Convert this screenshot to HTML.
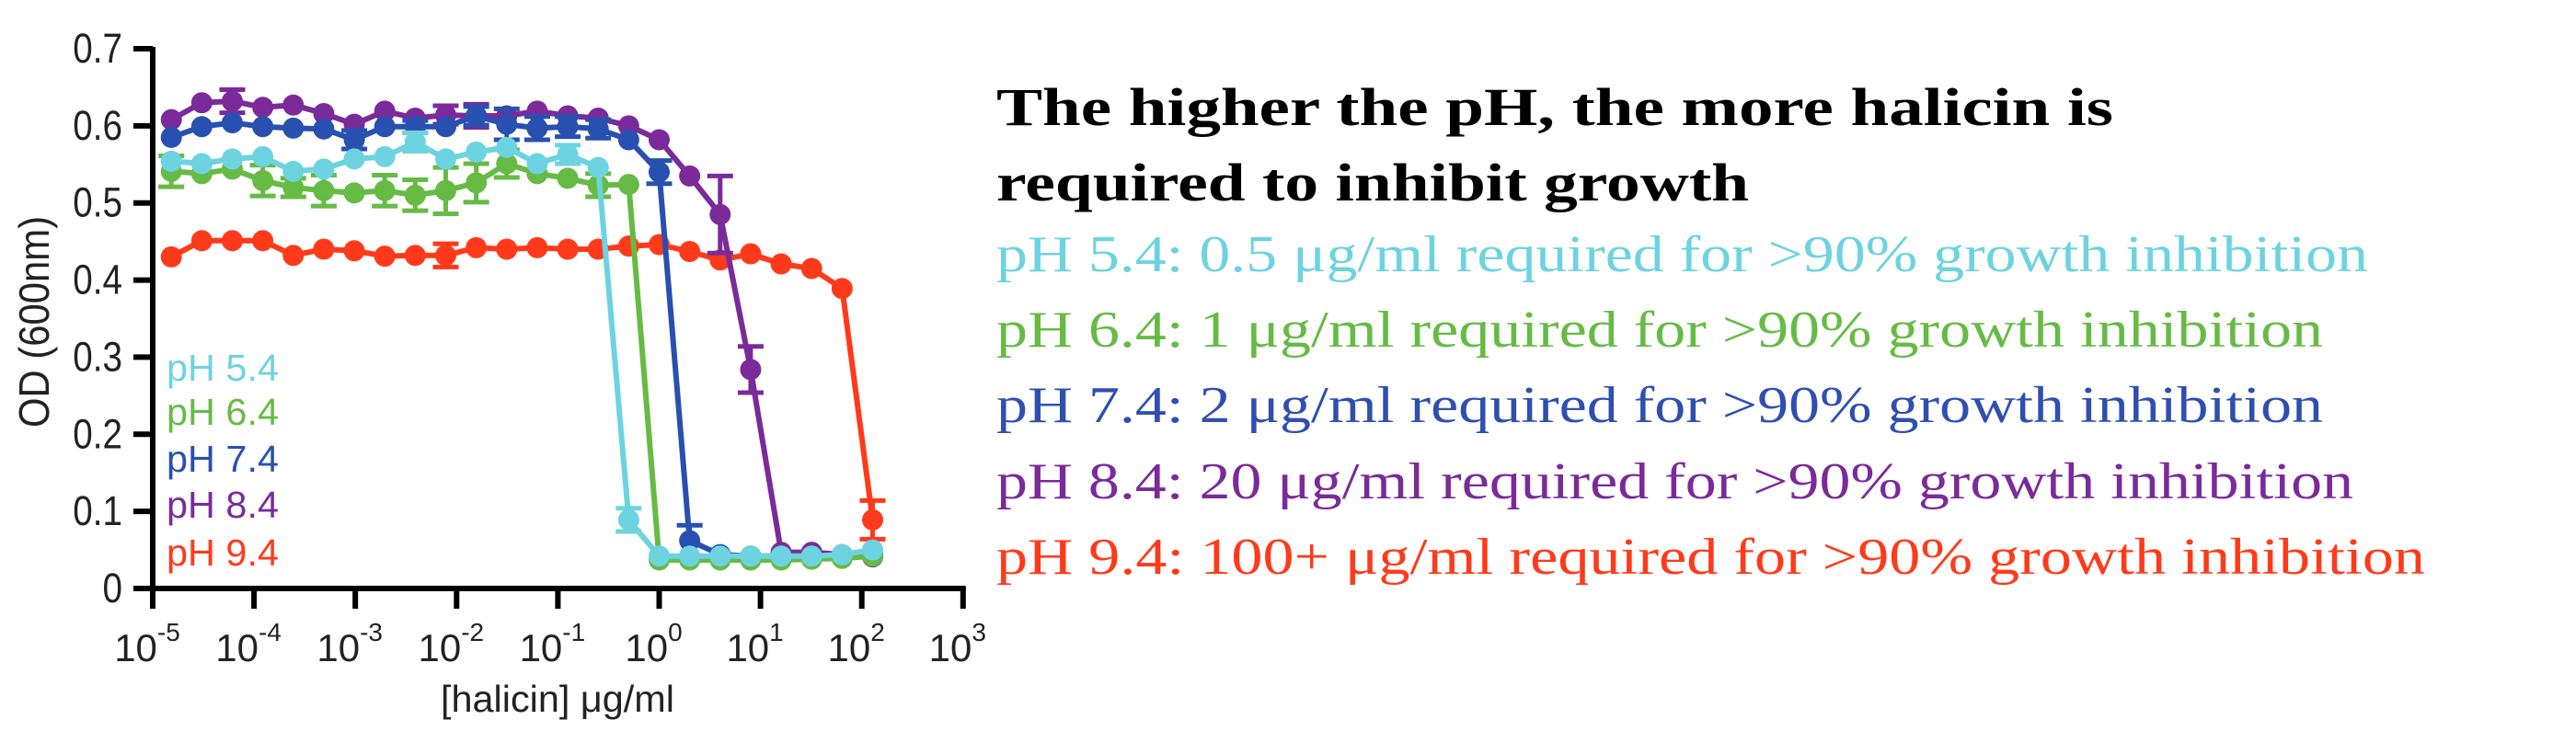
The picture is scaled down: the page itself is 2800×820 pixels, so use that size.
<!DOCTYPE html>
<html><head><meta charset="utf-8"><style>
html,body{margin:0;padding:0;background:#fff;}
svg{display:block;}
</style></head><body>
<svg id="chart" width="2800" height="820" viewBox="0 0 2800 820" xmlns="http://www.w3.org/2000/svg">
<g id="axes"></g>
<g id="series"></g>
<g id="legend"></g>
<g font-family="'Liberation Serif', serif">
<text x="1083" y="136" font-size="58" font-weight="bold" fill="#000" textLength="1214" lengthAdjust="spacingAndGlyphs">The higher the pH, the more halicin is</text>
<text x="1083" y="218" font-size="58" font-weight="bold" fill="#000" textLength="818" lengthAdjust="spacingAndGlyphs">required to inhibit growth</text>
<text x="1083" y="295" font-size="56" fill="#6dd3e0" textLength="1491" lengthAdjust="spacingAndGlyphs">pH 5.4: 0.5 μg/ml required for &gt;90% growth inhibition</text>
<text x="1083" y="377" font-size="56" fill="#66bb44" textLength="1442" lengthAdjust="spacingAndGlyphs">pH 6.4: 1 μg/ml required for &gt;90% growth inhibition</text>
<text x="1083" y="459" font-size="56" fill="#2f4fb0" textLength="1442" lengthAdjust="spacingAndGlyphs">pH 7.4: 2 μg/ml required for &gt;90% growth inhibition</text>
<text x="1083" y="542" font-size="56" fill="#7b2a9a" textLength="1475" lengthAdjust="spacingAndGlyphs">pH 8.4: 20 μg/ml required for &gt;90% growth inhibition</text>
<text x="1083" y="624" font-size="56" fill="#ff3a1a" textLength="1553" lengthAdjust="spacingAndGlyphs">pH 9.4: 100+ μg/ml required for &gt;90% growth inhibition</text>
</g>
</svg>
<script>
const concentrations = [0,1,2,3,4,5,6,7,8,9,10,11,12,13,14,15,16,17,18,19,20,21,22,23].map(function(i){return 128/Math.pow(2,23-i);});
const seriesNames = ["pH 9.4","pH 8.4","pH 7.4","pH 6.4","pH 5.4"];
const seriesColors = ["#ff3a1a","#7b2a9a","#2850b0","#66bb44","#6dd3e0"];
const valsPH94 = [0.43,0.451,0.451,0.451,0.432,0.44,0.438,0.431,0.432,0.432,0.442,0.44,0.442,0.44,0.44,0.444,0.446,0.437,0.426,0.434,0.421,0.415,0.389,0.089];
const errPH94  = [0,0,0,0,0,0,0,0,0,0.015,0,0,0,0,0,0,0,0,0,0,0,0,0,0.025];
const valsPH84 = [0.608,0.63,0.632,0.624,0.627,0.616,0.602,0.619,0.61,0.614,0.613,0.613,0.619,0.613,0.61,0.6,0.582,0.535,0.485,0.284,0.047,0.047,0.044,0.041];
const errPH84  = [0,0,0.015,0,0,0,0,0,0,0.012,0.015,0,0,0,0,0,0,0,0.05,0.03,0,0,0,0];
const valsPH74 = [0.585,0.599,0.604,0.599,0.597,0.596,0.582,0.599,0.599,0.599,0.613,0.602,0.597,0.599,0.596,0.582,0.54,0.062,0.044,0.042,0.042,0.042,0.042,0.044];
const errPH74  = [0,0,0,0,0,0,0.012,0,0.008,0,0.012,0.02,0.015,0.013,0.012,0,0.015,0.02,0,0,0,0,0,0];
const valsPH64 = [0.541,0.538,0.544,0.529,0.52,0.516,0.513,0.516,0.51,0.516,0.526,0.551,0.538,0.532,0.523,0.524,0.037,0.037,0.037,0.037,0.037,0.038,0.039,0.042];
const errPH64  = [0.02,0,0,0.02,0.012,0.02,0,0.02,0.02,0.03,0.025,0.018,0,0,0.015,0,0,0,0,0,0,0,0,0];
const valsPH54 = [0.554,0.551,0.557,0.56,0.541,0.544,0.557,0.56,0.579,0.557,0.566,0.572,0.551,0.563,0.546,0.089,0.042,0.042,0.042,0.042,0.042,0.042,0.044,0.05];
const errPH54  = [0,0,0,0,0,0,0,0,0.012,0,0,0,0,0.012,0,0.015,0,0,0,0,0,0,0,0];
const seriesValues = [valsPH94,valsPH84,valsPH74,valsPH64,valsPH54];
const seriesErrors = [errPH94,errPH84,errPH74,errPH64,errPH54];
const yTicks = [0,0.1,0.2,0.3,0.4,0.5,0.6,0.7];
const yTickLabels = ["0","0.1","0.2","0.3","0.4","0.5","0.6","0.7"];
const xTickExps = [-5,-4,-3,-2,-1,0,1,2,3];
const legendLabels = ["pH 5.4","pH 6.4","pH 7.4","pH 8.4","pH 9.4"];
const legendColors = ["#6dd3e0","#66bb44","#2850b0","#7b2a9a","#ff3a1a"];

const NS="http://www.w3.org/2000/svg";
const X0=166, DEC=110.1, Y0=640, YTOP=53;
const SANS="'Liberation Sans', sans-serif";
function xs(v){return X0+(Math.log10(v)+5)*DEC;}
function ys(v){return Y0-(v/0.7)*(Y0-YTOP);}
function mk(tag,attrs,parent){const e=document.createElementNS(NS,tag);for(const k in attrs)e.setAttribute(k,attrs[k]);parent.appendChild(e);return e;}

const axes=document.getElementById('axes');
const yAxis=mk('line',{x1:X0,y1:YTOP-2,x2:X0,y2:Y0+3,stroke:'#000','stroke-width':6},axes);


const xAxis=mk('line',{x1:X0-3,y1:Y0,x2:X0+8*DEC+3,y2:Y0,stroke:'#000','stroke-width':6},axes);


yTicks.forEach(function(t,i){
  const tk=mk('line',{x1:X0-21,y1:ys(t),x2:X0,y2:ys(t),stroke:'#000','stroke-width':6},axes);
  
  
  const lb=mk('text',{transform:'translate('+(X0-33)+','+(ys(t)+15)+') scale(0.92,1.08)','text-anchor':'end','font-family':SANS,'font-size':42,fill:'#222'},axes);
  lb.textContent=yTickLabels[i];
  
  
});
xTickExps.forEach(function(e){
  const x=xs(Math.pow(10,e));
  const tk=mk('line',{x1:x,y1:Y0,x2:x,y2:Y0+22,stroke:'#000','stroke-width':6},axes);
  
  
  const lb=mk('text',{x:x-6,y:719,'text-anchor':'middle','font-family':SANS,'font-size':42,fill:'#222'},axes);
  
  
  const base=document.createElementNS(NS,'tspan');base.textContent='10';lb.appendChild(base);
  const sup=document.createElementNS(NS,'tspan');sup.setAttribute('dy','-22');sup.setAttribute('font-size','28');sup.textContent=String(e);lb.appendChild(sup);
});
const yTitle=mk('text',{x:0,y:0,transform:'translate(53,350) rotate(-90)','text-anchor':'middle','font-family':SANS,'font-size':46,fill:'#222',textLength:230,lengthAdjust:'spacingAndGlyphs'},axes);
yTitle.textContent='OD (600nm)';


const xTitle=mk('text',{x:479,y:774,'font-family':SANS,'font-size':41,fill:'#222',textLength:254,lengthAdjust:'spacingAndGlyphs'},axes);
xTitle.textContent='[halicin] μg/ml';



const sg=document.getElementById('series');
seriesValues.forEach(function(vals,si){
  const col=seriesColors[si];
  const g=mk('g',{},sg);
  
  
  const pts=vals.map(function(v,i){return xs(concentrations[i]).toFixed(1)+','+ys(v).toFixed(1);}).join(' ');
  const pl=mk('polyline',{points:pts,fill:'none',stroke:col,'stroke-width':6,'stroke-linejoin':'round'},g);
  
  
  vals.forEach(function(v,i){
    const err=seriesErrors[si][i];
    const x=xs(concentrations[i]);
    if(err>0){
      const eb=mk('path',{d:'M'+x+','+ys(v-err)+'V'+ys(v+err)+'M'+(x-14)+','+ys(v-err)+'h28M'+(x-14)+','+ys(v+err)+'h28',stroke:col,'stroke-width':5,fill:'none'},g);
      
      
    }
    const c=mk('circle',{cx:x,cy:ys(v),r:11.5,fill:col},g);
    
    
  });
});

const lg=document.getElementById('legend');
const legendY=[414,462,513,563,615];
legendLabels.forEach(function(l,i){
  const t=mk('text',{x:181,y:legendY[i],'font-family':SANS,'font-size':41,fill:legendColors[i],textLength:122,lengthAdjust:'spacingAndGlyphs'},lg);
  t.textContent=l;
  
  
});
</script>
</body></html>
